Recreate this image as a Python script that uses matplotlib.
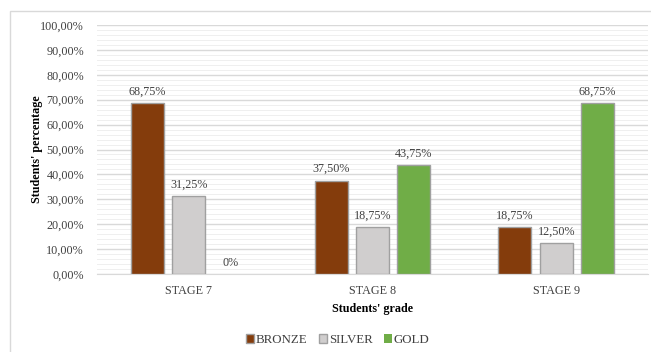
import matplotlib
matplotlib.use("Agg")
import matplotlib.pyplot as plt
from matplotlib.patches import Rectangle
from matplotlib.ticker import MultipleLocator, FuncFormatter
import numpy as np

categories = ["STAGE 7", "STAGE 8", "STAGE 9"]
series_names = ["BRONZE", "SILVER", "GOLD"]
bronze = [68.75, 37.50, 18.75]
silver = [31.25, 18.75, 12.50]
gold = [0.0, 43.75, 68.75]
bar_labels = [["68,75%", "37,50%", "18,75%"],
              ["31,25%", "18,75%", "12,50%"],
              ["0%", "43,75%", "68,75%"]]
colors = ["#843c0c", "#d0cece", "#70ad47"]

plt.rcParams['font.family'] = ['Liberation Serif', 'DejaVu Serif']

W, H = 651, 352
fig = plt.figure(figsize=(W / 100, H / 100), dpi=100)
fig.patch.set_facecolor("white")
fig.patches.append(Rectangle((10 / W, -0.1), 1.2, 1 - 11 / H + 0.1, transform=fig.transFigure,
                             fill=False, edgecolor="#d9d9d9", linewidth=1.0))

left, right = 97 / W, 648 / W
top, bottom = 1 - 25 / H, 1 - 274 / H
ax = fig.add_axes([left, bottom, right - left, top - bottom])

FS = 8.7
x = np.arange(len(categories))
width = 0.18
step = 0.225
series = [bronze, silver, gold]
for i, (vals, c, name) in enumerate(zip(series, colors, series_names)):
    pos = x + (i - 1) * step
    lw = [1.0 if v > 0 else 0.0 for v in vals]
    ax.bar(pos, vals, width, color=c, edgecolor="#a0a0a0", linewidth=lw, label=name, zorder=3)
    for p, v, lab in zip(pos, vals, bar_labels[i]):
        ax.text(p, v + 2.2, lab, ha="center", va="bottom", fontsize=FS, color="#404040")

ax.set_xlim(-0.5, 2.5)
ax.set_ylim(0, 100)
ax.yaxis.set_major_locator(MultipleLocator(10))
ax.yaxis.set_minor_locator(MultipleLocator(2))
ax.yaxis.set_major_formatter(FuncFormatter(lambda v, _: f"{v:.2f}%".replace(".", ",")))
ax.grid(axis="y", which="major", color="#d9d9d9", linewidth=1.0, zorder=0)
ax.grid(axis="y", which="minor", color="#efefef", linewidth=0.7, zorder=0)
ax.set_axisbelow(True)
for s in ["top", "right", "left"]:
    ax.spines[s].set_visible(False)
ax.spines["bottom"].set_color("#d9d9d9")
ax.tick_params(axis="both", which="both", length=0, labelsize=FS, colors="#404040")
ax.tick_params(axis="y", pad=9.4)
ax.tick_params(axis="x", pad=8)
ax.set_xticks(x)
ax.set_xticklabels(categories)

ax.set_ylabel("Students' percentage", fontsize=FS, fontweight="bold", color="#000000", labelpad=-2)
ax.set_xlabel("Students' grade", fontsize=FS, fontweight="bold", color="#000000", labelpad=4)

leg = fig.legend(loc="center", bbox_to_anchor=(338 / W, 1 - 340 / H), ncol=3, frameon=False,
                 fontsize=9.3, handlelength=0.6, handleheight=0.6, handletextpad=0.15,
                 columnspacing=0.9, labelcolor="#404040")

fig.savefig("out.png", dpi=100)
